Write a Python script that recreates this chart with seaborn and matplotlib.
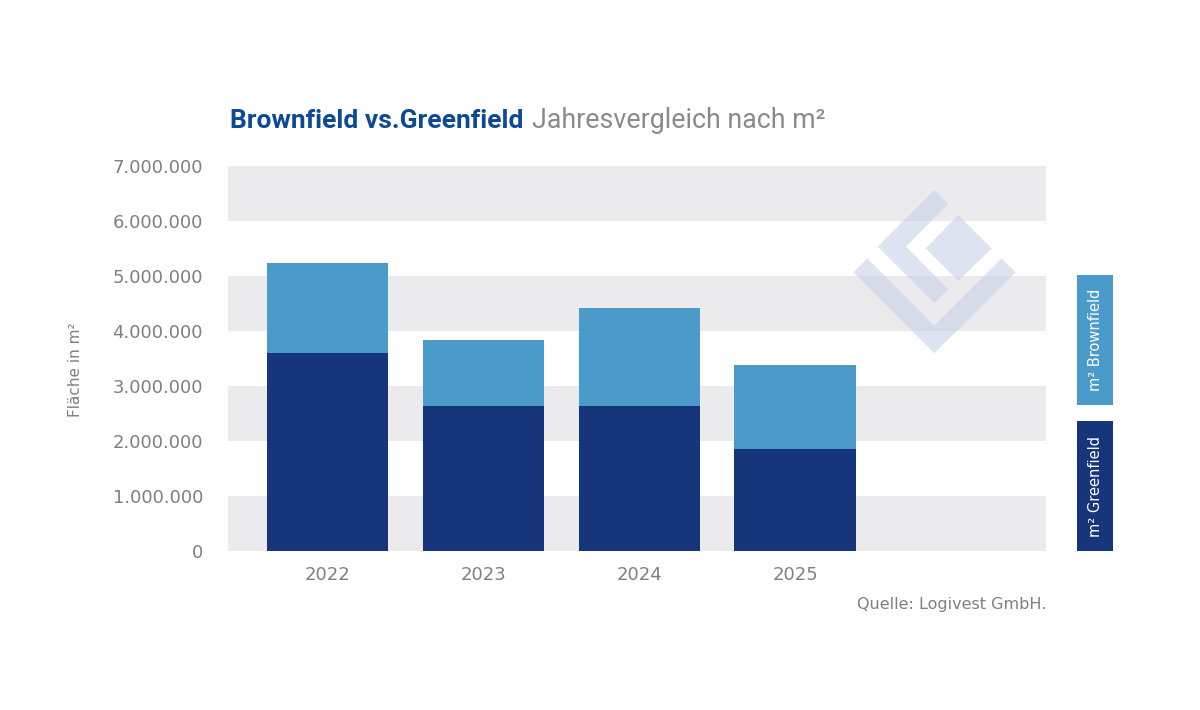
import matplotlib
matplotlib.use("Agg")
import matplotlib.pyplot as plt
from matplotlib.patches import Polygon, Rectangle
import seaborn as sns
import pandas as pd

# data (m²)
years = ["2022", "2023", "2024", "2025"]
greenfield = [3595000, 2636000, 2630000, 1860000]
brownfield = [1649000, 1194000, 1795000, 1530000]
y_ticks = [0, 1000000, 2000000, 3000000, 4000000, 5000000, 6000000, 7000000]

NAVY = "#17357b"
LIGHT = "#4a9bc9"
BAND = "#ebebee"
GRAY_TXT = "#7f7f7f"
TITLE_BLUE = "#0d4a96"

df = pd.DataFrame({"Jahr": years, "Greenfield": greenfield, "Brownfield": brownfield})
df["Gesamt"] = df["Greenfield"] + df["Brownfield"]

sns.set_style("white")
plt.rcParams["font.family"] = ["DejaVu Sans"]

fig = plt.figure(figsize=(12, 7.1), dpi=100)
ax = fig.add_axes([0.19, 0.2239, 0.6817, 0.5423])

# alternating horizontal bands
for lo in y_ticks[::2]:
    ax.axhspan(lo, lo + 1000000, color=BAND, lw=0, zorder=0)

# stacked bars: total first (brownfield visible on top), greenfield over it
sns.barplot(data=df, x="Jahr", y="Gesamt", color=LIGHT, width=0.78,
            saturation=1, linewidth=0, ax=ax, zorder=2)
sns.barplot(data=df, x="Jahr", y="Greenfield", color=NAVY, width=0.78,
            saturation=1, linewidth=0, ax=ax, zorder=3)

ax.set_xlim(-0.64, 4.61)
ax.set_ylim(0, 7000000)
ax.set_yticks(y_ticks)
ax.set_yticklabels([f"{v:,}".replace(",", ".") for v in y_ticks])
ax.set_xlabel("")
ax.set_ylabel("")
ax.tick_params(axis="y", length=0, pad=18, labelsize=13, labelcolor=GRAY_TXT)
ax.tick_params(axis="x", length=0, pad=11, labelsize=13, labelcolor=GRAY_TXT)
sns.despine(ax=ax, left=True, bottom=True)
ax.set_facecolor("none")

# axis title
fig.text(0.0625, 0.479, "Fläche in m²", rotation=90, ha="center", va="center",
         fontsize=11, color=GRAY_TXT)

# source
fig.text(0.8717, 0.149, "Quelle: Logivest GmbH.", ha="right", va="center",
         fontsize=11.5, color=GRAY_TXT)

# legend boxes on the right
legend_items = [("m² Brownfield", LIGHT, 0.4296), ("m² Greenfield", NAVY, 0.2239)]
for label, col, bottom in legend_items:
    fig.add_artist(Rectangle((0.8975, bottom), 0.03, 0.1831, transform=fig.transFigure,
                             color=col, lw=0))
    fig.text(0.8975 + 0.015, bottom + 0.0915, label, rotation=90, ha="center",
             va="center", fontsize=10.5, color="white")

# title in two parts
t1 = fig.text(0.1917, 0.8197, "Brownfield vs.Greenfield", ha="left", va="baseline",
              fontsize=19, fontweight="bold", color=TITLE_BLUE, family=["Roboto"])
fig.canvas.draw()
bb = t1.get_window_extent()
x2 = (bb.x1 + 9) / fig.bbox.width
fig.text(x2, 0.8197, "Jahresvergleich nach m²", ha="left", va="baseline",
         fontsize=19.3, color="#8a8a8a", family=["Roboto"])

# watermark logo
wm = fig.add_axes([0.7, 0.4789, 0.1583, 0.2676])
wm.set_xlim(0, 570)
wm.set_ylim(570, 0)
wm.axis("off")
logo = [
    [(40, 277), (283, 520), (527, 277), (485, 235), (283, 437), (82, 235)],
    [(283, 30), (325, 72), (198, 200), (325, 328), (283, 370), (113, 200)],
    [(355, 105), (455, 205), (355, 303), (257, 205)],
]
for pts in logo:
    wm.add_patch(Polygon(pts, closed=True, color=(0.79, 0.82, 0.91), alpha=0.6, lw=0))

fig.savefig("out.png", dpi=100)
